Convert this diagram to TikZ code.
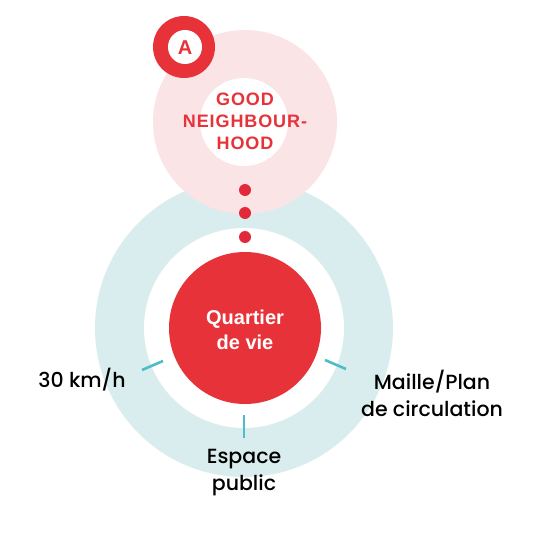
\documentclass[tikz,border=0pt]{standalone}
\usepackage{fontspec}
\setmainfont{Liberation Sans}
\newfontfamily\labfont{Poppins}[UprightFont=* Medium]
\newfontfamily\capfont{Liberation Sans}[LetterSpace=5]
\definecolor{cred}{HTML}{E8323A}
\definecolor{dotred}{HTML}{E2283B}
\definecolor{cpink}{HTML}{FBE4E6}
\definecolor{cteal}{HTML}{DAEDEE}
\definecolor{ctick}{HTML}{4DBEC6}
\tikzset{
  disc/.style={circle, inner sep=0pt, minimum size=#1},
  dotnode/.style={circle, fill=dotred, inner sep=0pt, minimum size=12pt},
  lab/.style={font=\labfont\fontsize{20.5}{27}\selectfont, text=black, align=center, inner sep=0pt},
  tick/.style={draw=ctick, line width=2.6pt},
}
\begin{document}
\begin{tikzpicture}[x=1pt, y=-1pt]
\fill[white] (0,0) rectangle (534,534);
\useasboundingbox (0,0) rectangle (534,534);
% big teal ring
\node[disc=298pt, fill=cteal] (ring) at (244,328) {};
% pink ring
\node[disc=184pt, fill=cpink] (pink) at (245,122) {};
\node[disc=88pt, fill=white] (pinkin) at (244,122) {};
% inner white of teal
\node[disc=200pt, fill=white] (ringin) at (244,328) {};
% red core
\node[disc=152pt, fill=cred] (core) at (245,328) {};
% badge
\node[disc=62pt, fill=cred] (badge) at (184,47) {};
\node[disc=34pt, fill=white] (badgein) at (185,47) {};
\node[text=cred, font=\capfont\fontsize{20}{20}\selectfont\bfseries, inner sep=0pt] (atext) at (185,47.5) {A};
% dots
\node[dotnode] (d1) at (245,190) {};
\node[dotnode] (d2) at (245,213) {};
\node[dotnode] (d3) at (245,237) {};
% texts
\node[font=\capfont\fontsize{18}{22}\selectfont\bfseries, text=cred, align=center, inner sep=0pt] (good) at (245,121) {GOOD\\NEIGHBOUR-\\HOOD};
\node[font=\fontsize{20}{25}\selectfont\bfseries, text=white, align=center, inner sep=0pt] (qv) at (245,330) {Quartier\\de vie};
% ticks
\coordinate (tl1) at (142,370); \coordinate (tl2) at (163,361);
\coordinate (tr1) at (325,360); \coordinate (tr2) at (346,369);
\coordinate (tb1) at (244,415); \coordinate (tb2) at (244,438);
\draw[tick] (tl1) -- (tl2);
\draw[tick] (tr1) -- (tr2);
\draw[tick] (tb1) -- (tb2);
% labels
\node[lab] (l30) at (82,380) {30 km/h};
\node[lab] (lmaille) at (432,393) {Maille/Plan\\de circulation};
\node[lab] (lesp) at (244,473) {Espace\\public};
\end{tikzpicture}
\end{document}
